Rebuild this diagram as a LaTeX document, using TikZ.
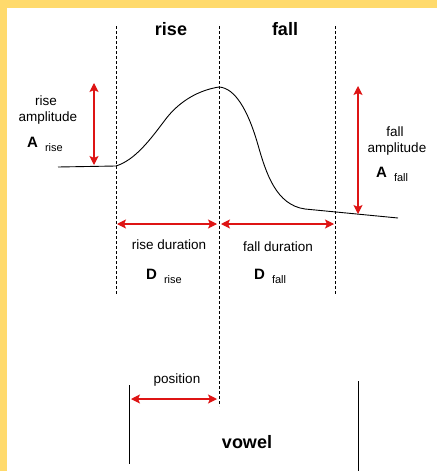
\documentclass[tikz,border=0pt]{standalone}
\usepackage{fontspec}
\setmainfont{Liberation Sans}
\usetikzlibrary{arrows.meta}
\definecolor{frame}{RGB}{255,218,108}
\definecolor{arr}{RGB}{222,20,20}
\tikzset{
  guide/.style={line width=0.9pt, dash pattern=on 3pt off 2pt},
  redarrow/.style={draw=arr, line width=1.1pt, {Stealth[length=9pt,width=9pt,inset=2pt]}-{Stealth[length=9pt,width=9pt,inset=2pt]}},
  lbl/.style={font=\fontsize{13.5}{14}\selectfont, inner sep=0pt},
  big/.style={font=\fontsize{18}{19}\selectfont\bfseries, inner sep=0pt},
  sym/.style={inner sep=0pt, anchor=base west},
}
\newcommand{\symb}[2]{{\fontsize{15}{16}\selectfont\bfseries #1}\hspace{7pt}{\fontsize{11}{12}\selectfont\raisebox{-4pt}{#2}}}
\begin{document}
\begin{tikzpicture}[x=1pt,y=-1pt]
\useasboundingbox (0,0) rectangle (437,471);
\fill[frame] (0,0) rectangle (437,471);
\fill[white] (7,8) rectangle (437,471);
% guides
\coordinate (g1t) at (116,26); \coordinate (g1b) at (116,295);
\coordinate (g2t) at (219,26); \coordinate (g2b) at (219,406);
\coordinate (g3t) at (335,26); \coordinate (g3b) at (335,295);
\draw[guide] (g1t) -- (g1b);
\draw[guide] (g2t) -- (g2b);
\draw[guide] (g3t) -- (g3b);
\node[big] (rise) at (171,29) {rise};
\node[big] (fall) at (285,29) {fall};
% contour
\coordinate (c0) at (58,167);
\coordinate (c1) at (116,166);
\coordinate (m1) at (165,120);
\coordinate (peak) at (219,87);
\coordinate (m2) at (258,145);
\coordinate (m3) at (305,209);
\coordinate (c3) at (398,218);
\draw[line width=0.9pt] (c0) -- (c1)
  .. controls (135,160) and (150,140) .. (m1)
  .. controls (180,100) and (200,90) .. (peak)
  .. controls (235,88) and (248,110) .. (m2)
  .. controls (266,173) and (276,205) .. (m3)
  -- (c3);
% rise amplitude
\coordinate (ra1) at (94,83); \coordinate (ra2) at (94,165);
\draw[redarrow] (ra1) -- (ra2);
\node[lbl] (ral1) at (46,101) {rise};
\node[lbl] (ral2) at (48,118) {amplitude};
\node[sym] (ral3) at (27,147) {\symb{A}{rise}};
% fall amplitude
\coordinate (fa1) at (358,86); \coordinate (fa2) at (358,214);
\draw[redarrow] (fa1) -- (fa2);
\node[lbl] (fal1) at (395,132) {fall};
\node[lbl] (fal2) at (397,149) {amplitude};
\node[sym] (fal3) at (376,177) {\symb{A}{fall}};
% durations
\coordinate (rd1) at (117,224); \coordinate (rd2) at (217,224);
\coordinate (fd1) at (221,224); \coordinate (fd2) at (334,224);
\draw[redarrow] (rd1) -- (rd2);
\draw[redarrow] (fd1) -- (fd2);
\node[lbl] (rdl) at (169,245) {rise duration};
\node[lbl] (fdl) at (278,247) {fall duration};
\node[sym] (dr) at (146,279) {\symb{D}{rise}};
\node[sym] (df) at (254,279) {\symb{D}{fall}};
% position / vowel
\coordinate (v1t) at (129,385); \coordinate (v1b) at (129,464);
\coordinate (v2t) at (358,381); \coordinate (v2b) at (358,471);
\draw[line width=0.9pt] (v1t) -- (v1b);
\draw[line width=0.9pt] (v2t) -- (v2b);
\coordinate (p1) at (131,399); \coordinate (p2) at (217,399);
\draw[redarrow] (p1) -- (p2);
\node[lbl] (pos) at (177,380) {position};
\node[big] (vowel) at (247,442) {vowel};
\end{tikzpicture}
\end{document}
